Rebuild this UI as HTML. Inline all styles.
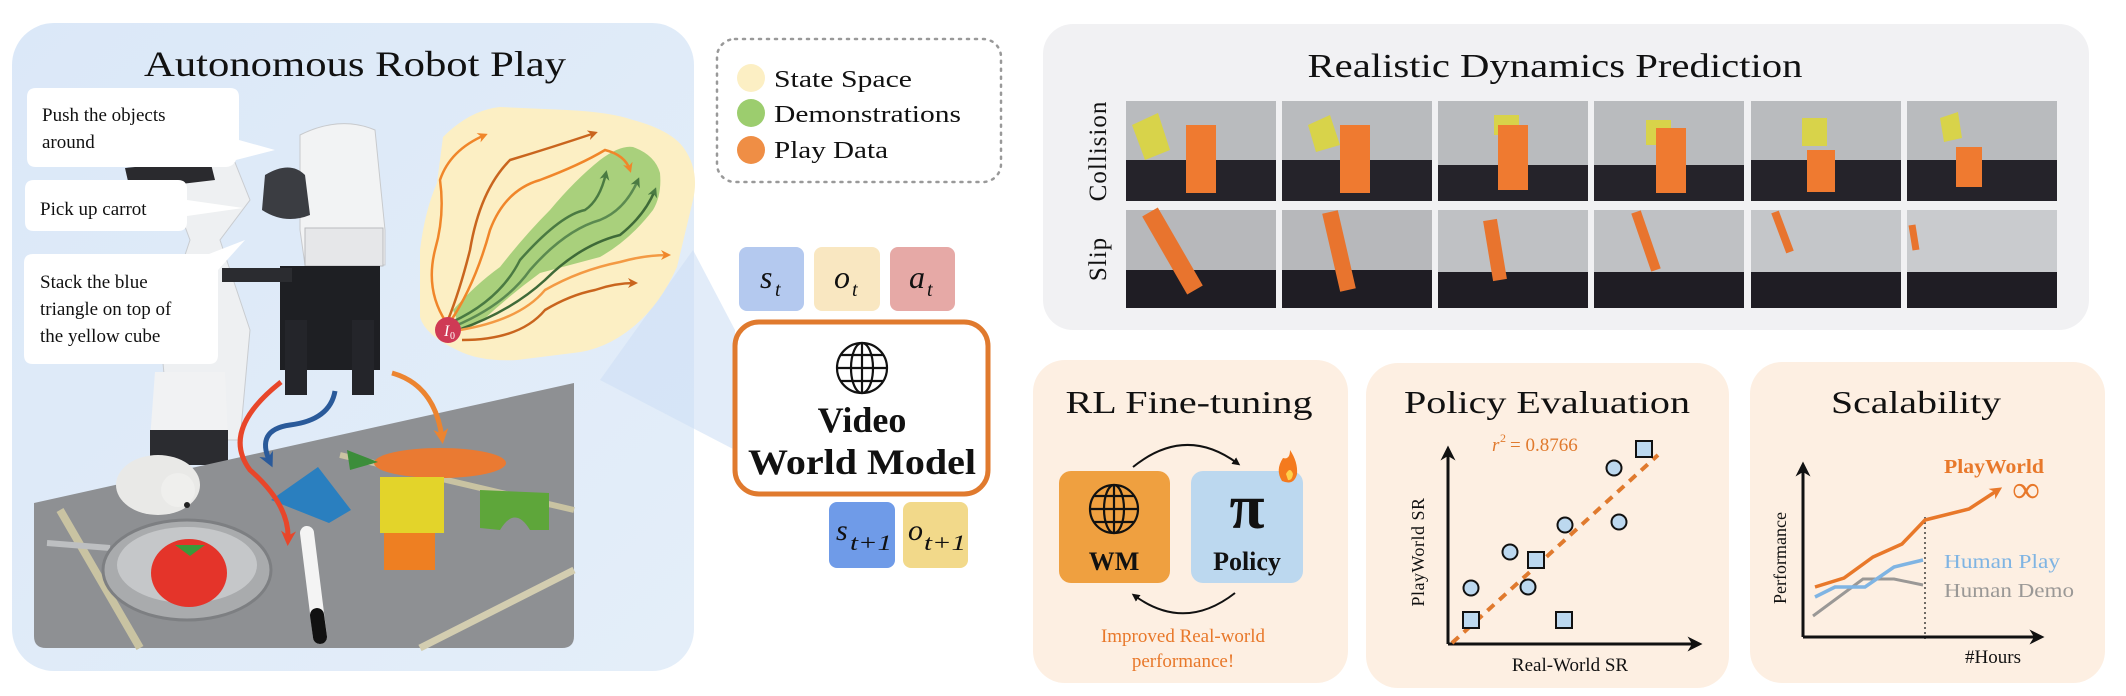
<!DOCTYPE html>
<html><head><meta charset="utf-8"><style>
html,body{margin:0;padding:0;background:#fff;}
svg{display:block;}
text{font-family:"Liberation Serif",serif;}
</style></head><body>
<svg width="2126" height="696" viewBox="0 0 2126 696" xmlns="http://www.w3.org/2000/svg">
<defs>
<linearGradient id="lbg" x1="0" y1="0" x2="1" y2="1"><stop offset="0" stop-color="#dbe8f8"/><stop offset="1" stop-color="#e4eef9"/></linearGradient>
<marker id="ao" viewBox="0 0 10 10" refX="7" refY="5" markerWidth="4" markerHeight="4" orient="auto"><path d="M0,0 L10,5 L0,10 L3,5z" fill="#f0862a"/></marker>
<marker id="ad" viewBox="0 0 10 10" refX="7" refY="5" markerWidth="4" markerHeight="4" orient="auto"><path d="M0,0 L10,5 L0,10 L3,5z" fill="#c9651e"/></marker>
<marker id="ag" viewBox="0 0 10 10" refX="7" refY="5" markerWidth="4" markerHeight="4" orient="auto"><path d="M0,0 L10,5 L0,10 L3,5z" fill="#4a7a42"/></marker>
<marker id="ar" viewBox="0 0 10 10" refX="6" refY="5" markerWidth="3" markerHeight="3" orient="auto"><path d="M0,0 L10,5 L0,10 L3,5z" fill="#e8462a"/></marker>
<marker id="ab" viewBox="0 0 10 10" refX="6" refY="5" markerWidth="3" markerHeight="3" orient="auto"><path d="M0,0 L10,5 L0,10 L3,5z" fill="#2a5a9a"/></marker>
<marker id="ao2" viewBox="0 0 10 10" refX="6" refY="5" markerWidth="3" markerHeight="3" orient="auto"><path d="M0,0 L10,5 L0,10 L3,5z" fill="#ec8430"/></marker>
<marker id="ak" viewBox="0 0 10 10" refX="7" refY="5" markerWidth="5" markerHeight="5" orient="auto"><path d="M0,0 L10,5 L0,10 L3,5z" fill="#111"/></marker>
<marker id="ak2" viewBox="0 0 10 10" refX="5" refY="5" markerWidth="4" markerHeight="4" orient="auto"><path d="M0,0 L10,5 L0,10z" fill="#111"/></marker>
<marker id="ao3" viewBox="0 0 10 10" refX="6" refY="5" markerWidth="3.5" markerHeight="3.5" orient="auto"><path d="M0,0 L10,5 L0,10 L3,5z" fill="#e8782a"/></marker>
</defs>

<!-- LEFT PANEL -->
<rect x="12" y="23" width="682" height="648" rx="42" fill="url(#lbg)"/>
<text x="355" y="76" font-size="36" text-anchor="middle" textLength="422" lengthAdjust="spacingAndGlyphs" fill="#111">Autonomous Robot Play</text>

<!-- beam/zoom highlight -->
<polygon points="693,250 735,330 735,450 600,380" fill="#cfe0f5" opacity="0.6"/>

<!-- robot arm background shapes -->
<path d="M160,160 L230,150 L250,200 L220,240 L250,330 L240,440 L170,440 L160,330 L190,240 Z" fill="#eef0f2" stroke="#c9ccd0"/>
<path d="M125,168 L210,160 L215,180 L130,190 Z" fill="#2a2a2e"/>
<path d="M300,135 Q340,115 375,130 L385,230 L385,265 L305,265 L300,230 Z" fill="#f2f3f4" stroke="#c8cacd"/>
<path d="M265,175 Q290,160 305,175 L310,215 Q285,225 262,210 Z" fill="#3b3d42"/>
<rect x="305" y="228" width="78" height="38" fill="#e6e7e9" stroke="#b9bbbe"/>
<rect x="280" y="266" width="100" height="104" fill="#1e1f23"/>
<rect x="285" y="320" width="22" height="75" fill="#24252a"/>
<rect x="352" y="320" width="22" height="75" fill="#24252a"/>
<rect x="222" y="268" width="70" height="14" fill="#2b2c30"/>
<!-- robot base -->
<path d="M155,372 L225,372 L228,440 L150,440 Z" fill="#f1f2f3"/>
<path d="M150,430 L228,430 L228,465 L150,465 Z" fill="#2b2c30"/>

<!-- table photo -->
<path d="M34,503 L574,383 L574,636 Q574,648 562,648 L46,648 Q34,648 34,636 Z" fill="#8e9093"/>
<path d="M60,510 L140,648" stroke="#c9c3a2" stroke-width="8"/>
<path d="M420,648 L574,570" stroke="#d3cdb0" stroke-width="7"/>
<path d="M340,455 L574,510" stroke="#c9c3a2" stroke-width="6"/>
<!-- bear -->
<ellipse cx="158" cy="485" rx="42" ry="30" fill="#e9e9e7"/>
<circle cx="178" cy="490" r="17" fill="#efefed"/>
<circle cx="187" cy="505" r="3" fill="#222"/>
<!-- pan -->
<path d="M47,543 L110,548" stroke="#bdbfc1" stroke-width="6"/>
<ellipse cx="187" cy="570" rx="84" ry="50" fill="#a9abad" stroke="#7d7f82" stroke-width="3"/>
<ellipse cx="187" cy="565" rx="70" ry="38" fill="#c5c7c9"/>
<ellipse cx="189" cy="573" rx="38" ry="34" fill="#e4342a"/>
<path d="M175,545 L205,545 L190,556 Z" fill="#3a9a3a"/>
<!-- marker -->
<path d="M307,533 L320,637" stroke="#f4f4f4" stroke-width="14" stroke-linecap="round"/>
<path d="M317,615 L320,637" stroke="#111" stroke-width="14" stroke-linecap="round"/>
<!-- blue triangle -->
<polygon points="271,500 318,467 351,510 329,523" fill="#2a7fbf"/>
<!-- carrot -->
<ellipse cx="440" cy="463" rx="66" ry="15" fill="#ea7a32"/>
<path d="M347,450 L378,462 L350,470 Z" fill="#3c8d3a"/>
<!-- blocks -->
<rect x="384" y="523" width="51" height="47" fill="#ee7f22"/>
<rect x="380" y="477" width="64" height="56" fill="#e3d42a"/>
<path d="M480,490 L549,493 L549,530 L530,530 Q515,505 500,530 L480,528 Z" fill="#5ea63a"/>

<!-- action arrows -->
<path d="M281,382 Q220,430 250,470 Q290,505 288,540" fill="none" stroke="#e8462a" stroke-width="5" marker-end="url(#ar)"/>
<path d="M335,391 Q330,420 290,425 Q255,430 270,462" fill="none" stroke="#2a5a9a" stroke-width="5" marker-end="url(#ab)"/>
<path d="M392,373 Q435,385 442,438" fill="none" stroke="#ec8430" stroke-width="5" marker-end="url(#ao2)"/>

<!-- speech bubbles -->
<g font-size="19" fill="#111">
<path d="M36,88 H230 Q239,88 239,97 V140 L275,150 L236,160 Q233,167 225,167 H36 Q27,167 27,158 V97 Q27,88 36,88Z" fill="#fff"/>
<text x="42" y="121">Push the objects</text>
<text x="42" y="148">around</text>
<path d="M34,180 H178 Q187,180 187,189 V200 L243,208 L187,216 V222 Q187,231 178,231 H34 Q25,231 25,222 V189 Q25,180 34,180Z" fill="#fff"/>
<text x="40" y="215">Pick up carrot</text>
<path d="M33,254 H209 L245,240 L218,270 V355 Q218,364 209,364 H33 Q24,364 24,355 V263 Q24,254 33,254Z" fill="#fff"/>
<text x="40" y="288">Stack the blue</text>
<text x="40" y="315">triangle on top of</text>
<text x="40" y="342">the yellow cube</text>
</g>

<!-- state space blob -->
<path d="M443,137 Q470,110 500,107 L567,110 Q610,112 633,120 Q670,130 683,147 Q700,170 693,200 L677,267 Q660,305 633,327 Q605,350 573,353 L517,360 Q480,362 457,350 Q425,335 420,317 L420,250 Q425,210 437,183 Z" fill="#fcefc4"/>
<path d="M453,310 Q475,285 500,267 Q525,235 550,210 Q575,180 600,160 Q620,145 633,147 Q655,155 660,173 Q662,195 653,210 Q630,240 600,257 Q570,265 540,273 Q510,295 483,320 Q470,330 460,327 Z" fill="#a9d07c"/>
<g fill="none" stroke-width="2.5">
<path d="M452,322 Q500,300 520,260 Q560,215 585,210 Q600,200 606,173" stroke="#4a7a42" marker-end="url(#ag)"/>
<path d="M455,326 Q505,305 530,270 Q565,230 600,220 Q625,210 638,180" stroke="#5b8a50" marker-end="url(#ag)"/>
<path d="M458,330 Q510,312 545,280 Q580,245 620,235 Q645,215 655,190" stroke="#3f6a38" marker-end="url(#ag)"/>
<path d="M446,322 Q425,290 435,250 Q445,215 440,180 Q450,150 485,135" stroke="#f0862a" marker-end="url(#ao)"/>
<path d="M448,320 Q460,290 470,250 Q480,190 510,160 Q550,148 595,133" stroke="#c9651e" marker-end="url(#ad)"/>
<path d="M450,322 Q475,285 490,230 Q505,190 540,180 Q580,165 605,150 Q625,155 630,170" stroke="#f0862a" marker-end="url(#ao)"/>
<path d="M460,330 Q520,320 545,290 Q580,270 620,262 Q645,255 668,255" stroke="#f39a44" marker-end="url(#ao)"/>
<path d="M462,340 Q520,340 545,310 Q570,295 595,290 Q615,283 635,283" stroke="#c9651e" marker-end="url(#ad)"/>
</g>
<circle cx="448" cy="330" r="13" fill="#cf3a55"/>
<text x="444" y="336" font-size="16" font-style="italic" fill="#fff">I</text><text x="450" y="339" font-size="10" fill="#fff">0</text>

<!-- legend -->
<rect x="717" y="39" width="284" height="143" rx="18" fill="none" stroke="#999" stroke-width="2.5" stroke-dasharray="2,6" stroke-linecap="round"/>
<circle cx="751" cy="78" r="14" fill="#fcefc4"/>
<circle cx="751" cy="113" r="14" fill="#9ccd6e"/>
<circle cx="751" cy="150" r="14" fill="#ef8e45"/>
<g font-size="24" fill="#111">
<text x="774" y="87" textLength="138" lengthAdjust="spacingAndGlyphs">State Space</text>
<text x="774" y="122" textLength="187" lengthAdjust="spacingAndGlyphs">Demonstrations</text>
<text x="774" y="158" textLength="114" lengthAdjust="spacingAndGlyphs">Play Data</text>
</g>

<!-- tokens -->
<rect x="739" y="247" width="65" height="64" rx="8" fill="#b4c9ef"/>
<rect x="814" y="247" width="66" height="64" rx="8" fill="#f9e7c1"/>
<rect x="890" y="247" width="65" height="64" rx="8" fill="#e6a9a6"/>
<g font-size="32" font-style="italic" fill="#111">
<text x="760" y="288">s</text><text x="775" y="296" font-size="20">t</text>
<text x="834" y="288">o</text><text x="852" y="296" font-size="20">t</text>
<text x="909" y="288">a</text><text x="927" y="296" font-size="20">t</text>
</g>
<rect x="735" y="322" width="253" height="172" rx="24" fill="#fff" stroke="#e07a2e" stroke-width="5"/>
<g fill="none" stroke="#111" stroke-width="2.2">
<circle cx="862" cy="368" r="25"/>
<ellipse cx="862" cy="368" rx="11" ry="25"/>
<line x1="862" y1="343" x2="862" y2="393"/>
<line x1="837" y1="368" x2="887" y2="368"/>
<path d="M841,355 H883 M841,381 H883"/>
</g>
<text x="862" y="432" font-size="36" font-weight="bold" text-anchor="middle" fill="#111">Video</text>
<text x="862" y="474" font-size="36" font-weight="bold" text-anchor="middle" textLength="228" lengthAdjust="spacingAndGlyphs" fill="#111">World Model</text>
<rect x="829" y="502" width="66" height="66" rx="8" fill="#6f9be8"/>
<rect x="903" y="502" width="65" height="66" rx="8" fill="#f2d98a"/>
<g font-size="30" font-style="italic" fill="#111">
<text x="836" y="540">s</text><text x="850" y="550" font-size="22" textLength="42" lengthAdjust="spacingAndGlyphs">t+1</text>
<text x="908" y="540">o</text><text x="924" y="550" font-size="22" textLength="42" lengthAdjust="spacingAndGlyphs">t+1</text>
</g>

<!-- TOP RIGHT PANEL -->
<rect x="1043" y="24" width="1046" height="306" rx="30" fill="#f1f1f3"/>
<text x="1555" y="77" font-size="34" text-anchor="middle" textLength="495" lengthAdjust="spacingAndGlyphs" fill="#111">Realistic Dynamics Prediction</text>
<text transform="translate(1106,151) rotate(-90)" font-size="25" text-anchor="middle" fill="#111" letter-spacing="1">Collision</text>
<text transform="translate(1106,259) rotate(-90)" font-size="25" text-anchor="middle" fill="#111" letter-spacing="1">Slip</text>
<g id="frames">
<!-- collision row -->
<g>
<rect x="1126" y="101" width="150" height="100" fill="#b9bbbe"/><rect x="1126" y="160" width="150" height="41" fill="#25232a"/><polygon points="1132,125 1158,113 1170,150 1145,160" fill="#d8d34a"/><rect x="1186" y="125" width="30" height="68" fill="#ef7a30"/>
<rect x="1282" y="101" width="150" height="100" fill="#b9bbbe"/><rect x="1282" y="160" width="150" height="41" fill="#25232a"/><polygon points="1308,125 1330,115 1340,145 1316,152" fill="#d8d34a"/><rect x="1340" y="125" width="30" height="68" fill="#ef7a30"/>
<rect x="1438" y="101" width="150" height="100" fill="#b9bbbe"/><rect x="1438" y="165" width="150" height="36" fill="#25232a"/><rect x="1494" y="115" width="25" height="20" fill="#d8d34a"/><rect x="1498" y="125" width="30" height="65" fill="#ef7a30"/>
<rect x="1594" y="101" width="150" height="100" fill="#b9bbbe"/><rect x="1594" y="165" width="150" height="36" fill="#25232a"/><rect x="1646" y="120" width="25" height="25" fill="#d8d34a"/><rect x="1656" y="128" width="30" height="65" fill="#ef7a30"/>
<rect x="1751" y="101" width="150" height="100" fill="#b9bbbe"/><rect x="1751" y="160" width="150" height="41" fill="#25232a"/><rect x="1802" y="118" width="25" height="28" fill="#d8d34a"/><rect x="1807" y="150" width="28" height="42" fill="#ef7a30"/>
<rect x="1907" y="101" width="150" height="100" fill="#b9bbbe"/><rect x="1907" y="160" width="150" height="41" fill="#25232a"/><polygon points="1940,118 1958,112 1962,138 1944,142" fill="#d8d34a"/><rect x="1956" y="147" width="26" height="40" fill="#ef7a30"/>
</g>
<!-- slip row -->
<g>
<rect x="1126" y="210" width="150" height="98" fill="#b7b8bb"/><rect x="1126" y="270" width="150" height="38" fill="#1f1d24"/><path d="M1150,212 L1195,290" stroke="#e8742e" stroke-width="18"/>
<rect x="1282" y="210" width="150" height="98" fill="#b7b8bb"/><rect x="1282" y="270" width="150" height="38" fill="#1f1d24"/><path d="M1330,212 L1348,290" stroke="#e8742e" stroke-width="16"/>
<rect x="1438" y="210" width="150" height="98" fill="#bfc1c4"/><rect x="1438" y="272" width="150" height="36" fill="#1f1d24"/><path d="M1490,220 L1500,280" stroke="#e8742e" stroke-width="14"/>
<rect x="1594" y="210" width="150" height="98" fill="#bfc1c4"/><rect x="1594" y="272" width="150" height="36" fill="#1f1d24"/><path d="M1636,212 L1656,270" stroke="#e8742e" stroke-width="10"/>
<rect x="1751" y="210" width="150" height="98" fill="#c4c6c9"/><rect x="1751" y="272" width="150" height="36" fill="#1f1d24"/><path d="M1775,212 L1790,252" stroke="#e8742e" stroke-width="8"/>
<rect x="1907" y="210" width="150" height="98" fill="#c9cbce"/><rect x="1907" y="272" width="150" height="36" fill="#1f1d24"/><path d="M1912,225 L1916,250" stroke="#e8742e" stroke-width="7"/>
</g>
</g>

<!-- RL FINE-TUNING -->
<rect x="1033" y="360" width="315" height="323" rx="32" fill="#fdefe2"/>
<text x="1189" y="413" font-size="32" text-anchor="middle" textLength="247" lengthAdjust="spacingAndGlyphs" fill="#111">RL Fine-tuning</text>
<rect x="1059" y="471" width="111" height="112" rx="12" fill="#efa040"/>
<rect x="1191" y="471" width="112" height="112" rx="12" fill="#bcd8ef"/>
<g fill="none" stroke="#111" stroke-width="2.2">
<circle cx="1114" cy="509" r="24"/><ellipse cx="1114" cy="509" rx="10" ry="24"/>
<line x1="1114" y1="485" x2="1114" y2="533"/><line x1="1090" y1="509" x2="1138" y2="509"/>
<path d="M1094,496 H1134 M1094,522 H1134"/>
</g>
<text x="1114" y="570" font-size="26" font-weight="bold" text-anchor="middle" fill="#111">WM</text>
<text x="1247" y="528" font-size="64" font-weight="bold" text-anchor="middle" fill="#111">π</text>
<text x="1247" y="570" font-size="26" font-weight="bold" text-anchor="middle" fill="#111">Policy</text>
<path d="M1283,458 Q1275,470 1282,481 Q1294,486 1297,474 Q1298,462 1290,450 Q1290,460 1283,458Z" fill="#f47a1e"/>
<path d="M1286,474 Q1290,466 1293,474 Q1292,481 1288,480Z" fill="#ffd04a"/>
<path d="M1133,467 Q1185,425 1237,463" fill="none" stroke="#111" stroke-width="2" marker-end="url(#ak2)"/>
<path d="M1235,593 Q1185,632 1135,596" fill="none" stroke="#111" stroke-width="2" marker-end="url(#ak2)"/>
<text x="1183" y="642" font-size="19" text-anchor="middle" fill="#e8782a">Improved Real-world</text>
<text x="1183" y="667" font-size="19" text-anchor="middle" fill="#e8782a">performance!</text>

<!-- POLICY EVALUATION -->
<rect x="1366" y="363" width="363" height="325" rx="32" fill="#fdefe2"/>
<text x="1547" y="413" font-size="32" text-anchor="middle" textLength="286" lengthAdjust="spacingAndGlyphs" fill="#111">Policy Evaluation</text>
<line x1="1448" y1="644" x2="1448" y2="450" stroke="#111" stroke-width="3" marker-end="url(#ak)"/>
<line x1="1448" y1="644" x2="1698" y2="644" stroke="#111" stroke-width="3" marker-end="url(#ak)"/>
<line x1="1452" y1="643" x2="1658" y2="455" stroke="#e07a2e" stroke-width="4" stroke-dasharray="9,7"/>
<text x="1492" y="451" font-size="19" font-style="italic" fill="#e07a2e">r</text><text x="1500" y="442" font-size="12" fill="#e07a2e">2</text><text x="1510" y="451" font-size="19" fill="#e07a2e">= 0.8766</text>
<g fill="#bcd8ef" stroke="#111" stroke-width="2">
<circle cx="1614" cy="468" r="7.5"/><circle cx="1619" cy="522" r="7.5"/><circle cx="1565" cy="525" r="7.5"/>
<circle cx="1510" cy="552" r="7.5"/><circle cx="1528" cy="587" r="7.5"/><circle cx="1471" cy="588" r="7.5"/>
<rect x="1636" y="441" width="16" height="16"/><rect x="1528" y="552" width="16" height="16"/>
<rect x="1463" y="612" width="16" height="16"/><rect x="1556" y="612" width="16" height="16"/>
</g>
<text transform="translate(1424,552) rotate(-90)" font-size="18" text-anchor="middle" fill="#111" letter-spacing="0.5">PlayWorld SR</text>
<text x="1570" y="671" font-size="19" text-anchor="middle" fill="#111">Real-World SR</text>

<!-- SCALABILITY -->
<rect x="1750" y="362" width="355" height="321" rx="32" fill="#fdefe2"/>
<text x="1916" y="413" font-size="32" text-anchor="middle" textLength="170" lengthAdjust="spacingAndGlyphs" fill="#111">Scalability</text>
<line x1="1803" y1="637" x2="1803" y2="466" stroke="#111" stroke-width="3" marker-end="url(#ak)"/>
<line x1="1803" y1="637" x2="2040" y2="637" stroke="#111" stroke-width="3" marker-end="url(#ak)"/>
<line x1="1925" y1="517" x2="1925" y2="640" stroke="#111" stroke-width="1.2" stroke-dasharray="2,3"/>
<polyline points="1813,616 1863,579 1894,579 1923,585" fill="none" stroke="#9a9896" stroke-width="3"/>
<polyline points="1815,597 1835,587 1865,587 1894,567 1923,560" fill="none" stroke="#7fb4e3" stroke-width="3.5"/>
<polyline points="1815,587 1844,578 1873,557 1902,544 1925,520 1969,509 1998,490" fill="none" stroke="#e8782a" stroke-width="3.5" marker-end="url(#ao3)"/>
<text x="2026" y="502" font-size="38" text-anchor="middle" fill="#e8782a" font-weight="bold">∞</text>
<text x="1944" y="473" font-size="20" font-weight="bold" textLength="100" lengthAdjust="spacingAndGlyphs" fill="#e8782a">PlayWorld</text>
<text x="1944" y="568" font-size="20" textLength="116" lengthAdjust="spacingAndGlyphs" fill="#7fb4e3">Human Play</text>
<text x="1944" y="597" font-size="20" textLength="130" lengthAdjust="spacingAndGlyphs" fill="#9a9896">Human Demo</text>
<text transform="translate(1786,558) rotate(-90)" font-size="18" text-anchor="middle" fill="#111">Performance</text>
<text x="1993" y="663" font-size="19" text-anchor="middle" fill="#111">#Hours</text>
</svg>
</body></html>
